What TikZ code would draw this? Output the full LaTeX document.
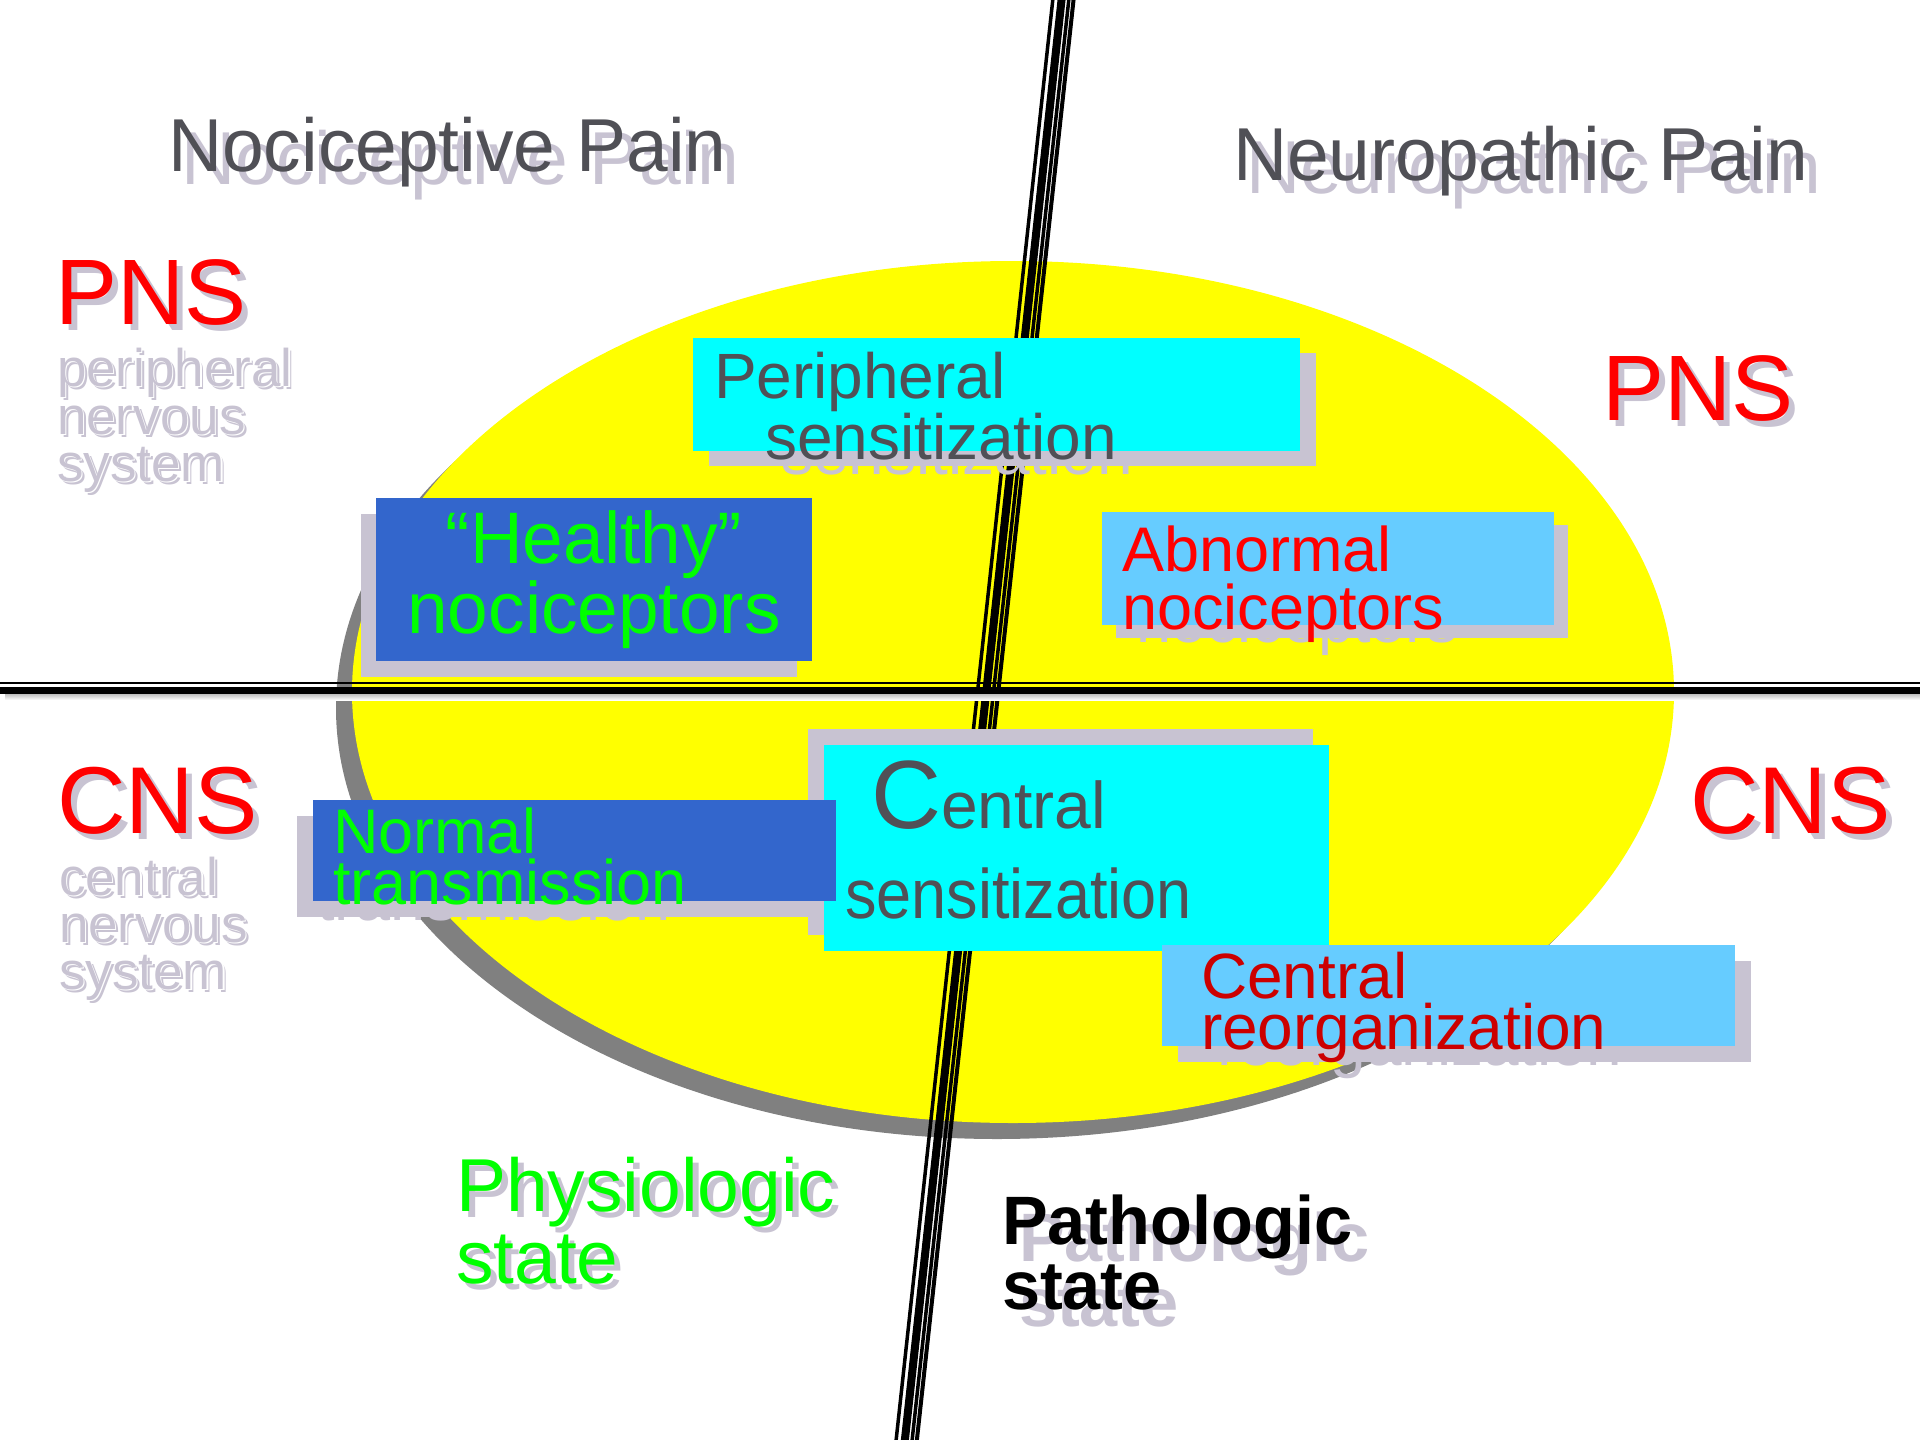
\documentclass[tikz,border=0pt]{standalone}
\usepackage{fontspec}
\setmainfont{Liberation Sans}
\definecolor{shade}{RGB}{200,195,210}
\definecolor{ink}{RGB}{80,80,86}
\definecolor{boxblue}{RGB}{51,102,204}
\definecolor{skyblue}{RGB}{102,204,255}
\definecolor{aqua}{RGB}{0,255,255}
\definecolor{sun}{RGB}{255,255,0}
\definecolor{signal}{RGB}{255,0,0}
\definecolor{darkred}{RGB}{204,0,0}
\definecolor{leaf}{RGB}{0,255,0}
\definecolor{rim}{RGB}{128,128,128}

% pale embossed label: shadow, white rim, face
\newcommand\embossed[4]{%
  \node[lbl, fs=53, text=shade] (#1s) at (#2+3,#3+3) {#4};
  \node[lbl, fs=53, text=white] (#1w) at (#2+1.3,#3+1.3) {#4};
  \node[lbl, fs=53, text=shade] (#1)  at (#2,#3) {#4};}

\begin{document}
\begin{tikzpicture}[x=1pt,y=-1pt,
  lbl/.style={inner sep=0pt,outer sep=0pt,anchor=base west},
  clbl/.style={inner sep=0pt,outer sep=0pt,anchor=base},
  fs/.style={font=\fontsize{#1}{#1}\selectfont},
  fsb/.style={font=\fontsize{#1}{#1}\selectfont\bfseries},
  shadowbox/.style={fill=shade},
  strip/.style={line width=#1pt},
]
\useasboundingbox (0,0) rectangle (1920,1440);
\fill[white] (0,0) rectangle (1920,1440);
\clip (0,0) rectangle (1920,1440);

% central oval with its offset rim
\fill[rim] (997,708) ellipse [x radius=661, y radius=431];
\fill[sun] (1013,692) ellipse [x radius=661, y radius=431];

% slanted divider: three black strips and a pale shadow strip
\coordinate (vtop) at (1053.2,-20);
\coordinate (vbot) at (892.2,1460);
\draw[shade, strip=4]   ([xshift=22.5pt]vtop) -- ([xshift=22.5pt]vbot);
\draw[black, strip=3.5] ([xshift=1.75pt]vtop) -- ([xshift=1.75pt]vbot);
\draw[black, strip=8]   ([xshift=10.5pt]vtop) -- ([xshift=10.5pt]vbot);
\draw[black, strip=3.5] ([xshift=17.75pt]vtop) -- ([xshift=17.75pt]vbot);

% horizontal divider: thin and thick black lines over a pale shadow
\fill[shade] (5,688) rectangle (1920,700);
\coordinate (hl) at (-10,683.2);
\coordinate (hr) at (1930,683.2);
\draw[black, strip=2.5] (hl) -- (hr);
\draw[black, strip=7.4] ([yshift=-7.1pt]hl) -- ([yshift=-7.1pt]hr);

% headings
\node[lbl, fs=75, text=shade] (nocis) at (181,184) {Nociceptive Pain};
\node[lbl, fs=75, text=ink]   (noci)  at (168,171) {Nociceptive Pain};
\node[lbl, fs=75, text=shade] (neuros) at (1246,193) {Neuropathic Pain};
\node[lbl, fs=75, text=ink]   (neuro)  at (1233,180) {Neuropathic Pain};

% left column: system labels
\node[lbl, fs=93, text=shade]  (pnsls) at (61,330) {PNS};
\node[lbl, fs=93, text=signal] (pnsl)  at (55,324) {PNS};
\embossed{pl1}{57}{386}{peripheral}
\embossed{pl2}{57}{434}{nervous}
\embossed{pl3}{57}{481}{system}

\node[lbl, fs=95, text=shade]  (cnsls) at (63,839) {CNS};
\node[lbl, fs=95, text=signal] (cnsl)  at (57,833) {CNS};
\embossed{cl1}{59}{895}{central}
\embossed{cl2}{59}{942}{nervous}
\embossed{cl3}{59}{989}{system}

% right column: system labels
\node[lbl, fs=93, text=shade]  (pnsrs) at (1608,426) {PNS};
\node[lbl, fs=93, text=signal] (pnsr)  at (1602,420) {PNS};
\node[lbl, fs=95, text=shade]  (cnsrs) at (1696,839) {CNS};
\node[lbl, fs=95, text=signal] (cnsr)  at (1690,833) {CNS};

% Peripheral sensitization
\fill[shadowbox] (709,353) rectangle (1316,466);
\node[lbl, fs=64, text=shade] (ps1s) at (730,413) {Peripheral};
\node[lbl, fs=64, text=shade] (ps2s) at (781,474) {sensitization};
\fill[aqua] (693,338) rectangle (1300,451);
\node[lbl, fs=64, text=ink] (ps1) at (714,398) {Peripheral};
\node[lbl, fs=64, text=ink] (ps2) at (765,459) {sensitization};

% "Healthy" nociceptors
\fill[shadowbox] (361,514) rectangle (797,677);
\fill[boxblue] (376,498) rectangle (812,661);
\node[clbl, fs=73, text=leaf] (hn1) at (594,563) {“Healthy”};
\node[clbl, fs=73, text=leaf] (hn2) at (594,633) {nociceptors};

% Abnormal nociceptors
\fill[shadowbox] (1116,525) rectangle (1568,638);
\node[lbl, fs=63, text=shade] (an1s) at (1136,584) {Abnormal};
\node[lbl, fs=63, text=shade] (an2s) at (1136,642) {nociceptors};
\fill[skyblue] (1102,512) rectangle (1554,625);
\node[lbl, fs=63, text=signal] (an1) at (1122,571) {Abnormal};
\node[lbl, fs=63, text=signal] (an2) at (1122,629) {nociceptors};

% Central sensitization
\fill[shadowbox] (808,729) rectangle (1313,935);
\fill[aqua] (824,745) rectangle (1329,951);
\node[lbl, text=ink] (cs1) at (871,828)
  {\fontsize{97}{97}\selectfont C\fontsize{66}{66}\selectfont entral};
\node[lbl, text=ink] (cs2) at (845,918)
  {\fontsize{70}{70}\selectfont\scalebox{0.9}[1]{sensitization}};

% Normal transmission
\fill[shadowbox] (297,816) rectangle (820,917);
\node[lbl, fs=63, text=shade] (nt1s) at (317,869) {Normal};
\node[lbl, fs=63, text=shade] (nt2s) at (317,920) {transmission};
\fill[boxblue] (313,800) rectangle (836,901);
\node[lbl, fs=63, text=leaf] (nt1) at (333,853) {Normal};
\node[lbl, fs=63, text=leaf] (nt2) at (333,904) {transmission};

% Central reorganization
\fill[shadowbox] (1178,961) rectangle (1751,1062);
\node[lbl, fs=64, text=shade] (cr1s) at (1217,1014) {Central};
\node[lbl, fs=64, text=shade] (cr2s) at (1217,1065) {reorganization};
\fill[skyblue] (1162,945) rectangle (1735,1046);
\node[lbl, fs=64, text=darkred] (cr1) at (1201,998) {Central};
\node[lbl, fs=64, text=darkred] (cr2) at (1201,1049) {reorganization};

% states below the oval
\node[lbl, fs=75, text=shade] (ph1s) at (462,1217) {Physiologic};
\node[lbl, fs=75, text=shade] (ph2s) at (462,1289) {state};
\node[lbl, fs=75, text=leaf]  (ph1)  at (456,1211) {Physiologic};
\node[lbl, fs=75, text=leaf]  (ph2)  at (456,1283) {state};

\node[lbl, fsb=68.5, text=shade] (pa1s) at (1019,1261) {Pathologic};
\node[lbl, fsb=68.5, text=shade] (pa2s) at (1019,1326) {state};
\node[lbl, fsb=68.5, text=black] (pa1)  at (1002,1244) {Pathologic};
\node[lbl, fsb=68.5, text=black] (pa2)  at (1002,1309) {state};
\end{tikzpicture}
\end{document}
